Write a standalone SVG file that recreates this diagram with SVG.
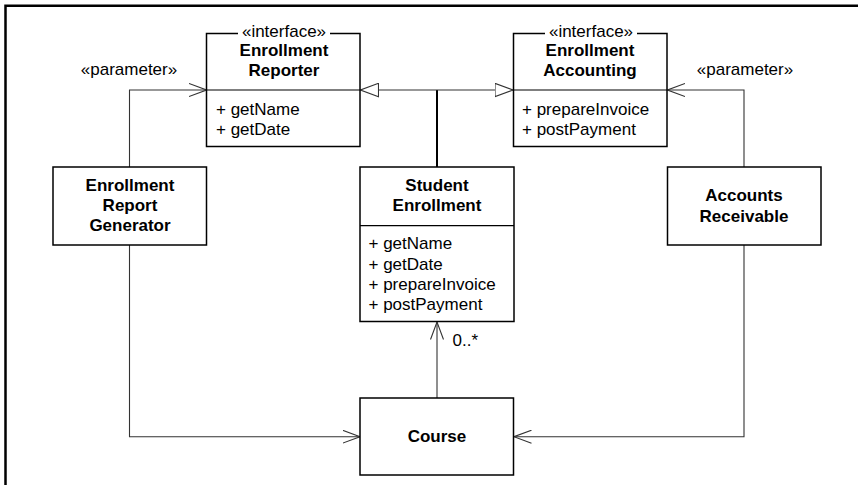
<svg xmlns="http://www.w3.org/2000/svg" width="858" height="485" viewBox="0 0 858 485">
<style>
text{font-family:"Liberation Sans",Arial,sans-serif;font-size:17px;fill:#000}
.b{font-weight:bold;text-anchor:middle}
.c{text-anchor:middle}
.box{fill:#fff;stroke:#000;stroke-width:1.5}
.ln{fill:none;stroke:#333;stroke-width:1.1}
.tr{fill:none;stroke:#000;stroke-width:2}
</style>
<defs>
<marker id="open" viewBox="0 0 18 14" refX="17.5" refY="7" markerWidth="18" markerHeight="14" markerUnits="userSpaceOnUse" orient="auto">
<path d="M0,0.5 L17.5,7 L0,13.5" fill="none" stroke="#333" stroke-width="1.1"/>
</marker>
<marker id="tri" viewBox="0 0 19 15" refX="18.5" refY="7.5" markerWidth="19" markerHeight="15" markerUnits="userSpaceOnUse" orient="auto">
<path d="M0.5,0.8 L18.5,7.5 L0.5,14.2 Z" fill="#fff" stroke="#333" stroke-width="1.1"/>
</marker>
</defs>
<rect width="858" height="485" fill="#fff"/>
<path d="M5.5,485 V5.8 H858" fill="none" stroke="#000" stroke-width="2.5"/>

<g id="connectors">
<path class="ln" d="M129.5,167 V90 H206.5" marker-end="url(#open)"/>
<path class="ln" d="M129.5,245 V436.7 H360" marker-end="url(#open)"/>
<path class="ln" d="M744,167 V90 H667.5" marker-end="url(#open)"/>
<path class="ln" d="M744,245 V436.7 H514" marker-end="url(#open)"/>
<path class="ln" d="M437,398 V322" marker-end="url(#open)"/>
<path class="tr" d="M437,167 V90"/>
<path class="ln" d="M437,90 H360.5" marker-end="url(#tri)"/>
<path class="ln" d="M437,90 H513" marker-end="url(#tri)"/>
<text x="129" y="75" class="c">«parameter»</text>
<text x="745" y="75" class="c">«parameter»</text>
<text x="452.5" y="346">0..*</text>
</g>

<g id="enrollment-reporter">
<rect class="box" x="206.5" y="33.5" width="153.5" height="113"/>
<rect x="238" y="28" width="92" height="10" fill="#fff"/>
<text x="284" y="37" class="c">«interface»</text>
<text x="284" y="56" class="b">Enrollment</text>
<text x="284" y="76" class="b">Reporter</text>
<line x1="206.5" y1="90" x2="360" y2="90" stroke="#000" stroke-width="1.2"/>
<text x="216" y="114.5">+ getName</text>
<text x="216" y="134.5">+ getDate</text>
</g>

<g id="enrollment-accounting">
<rect class="box" x="513.5" y="33.5" width="153.5" height="113"/>
<rect x="545" y="28" width="92" height="10" fill="#fff"/>
<text x="591" y="37" class="c">«interface»</text>
<text x="590" y="56" class="b">Enrollment</text>
<text x="590" y="76" class="b">Accounting</text>
<line x1="513.5" y1="90" x2="667" y2="90" stroke="#000" stroke-width="1.2"/>
<text x="522" y="114.5">+ prepareInvoice</text>
<text x="522" y="134.5">+ postPayment</text>
</g>

<g id="enrollment-report-generator">
<rect class="box" x="53" y="167" width="153.5" height="78"/>
<text x="130" y="191" class="b">Enrollment</text>
<text x="130" y="211" class="b">Report</text>
<text x="130" y="231" class="b">Generator</text>
</g>

<g id="student-enrollment">
<rect class="box" x="360" y="167" width="154" height="154.5"/>
<line x1="360" y1="225.7" x2="514" y2="225.7" stroke="#000" stroke-width="1.2"/>
<text x="437" y="191" class="b">Student</text>
<text x="437" y="211" class="b">Enrollment</text>
<text x="368.5" y="249">+ getName</text>
<text x="368.5" y="269.5">+ getDate</text>
<text x="368.5" y="289.5">+ prepareInvoice</text>
<text x="368.5" y="310">+ postPayment</text>
</g>

<g id="accounts-receivable">
<rect class="box" x="667.5" y="167" width="153.5" height="78"/>
<text x="744" y="201" class="b">Accounts</text>
<text x="744" y="221.5" class="b">Receivable</text>
</g>

<g id="course">
<rect class="box" x="360" y="398" width="153.5" height="77"/>
<text x="437" y="442" class="b">Course</text>
</g>
</svg>
